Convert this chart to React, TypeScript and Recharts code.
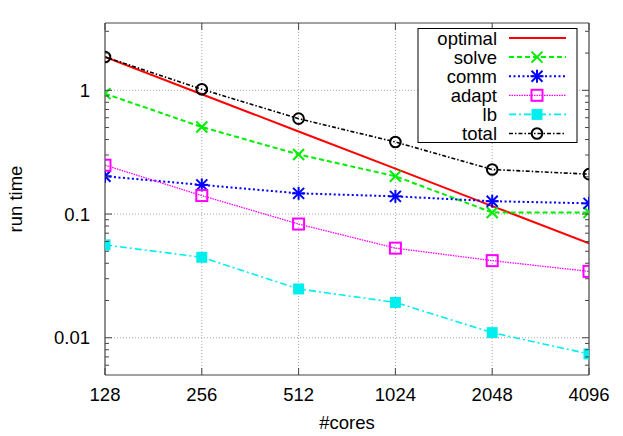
import React from "react";
import { LineChart, Line, XAxis, YAxis, ReferenceLine } from "recharts";

const CORES = [128, 256, 512, 1024, 2048, 4096];
const OPTIMAL = [1.86, 0.93, 0.465, 0.233, 0.116, 0.058];
const SOLVE = [0.94, 0.505, 0.303, 0.202, 0.103, 0.103];
const COMM = [0.202, 0.172, 0.147, 0.139, 0.127, 0.122];
const ADAPT = [0.248, 0.141, 0.083, 0.053, 0.042, 0.0344];
const LB = [0.0563, 0.0447, 0.0248, 0.0193, 0.011, 0.0074];
const TOTAL = [1.86, 1.02, 0.59, 0.382, 0.229, 0.21];

const Y_MAJOR = [0.01, 0.1, 1];
const Y_TICKS = [
  0.006, 0.007, 0.008, 0.009, 0.01,
  0.02, 0.03, 0.04, 0.05, 0.06, 0.07, 0.08, 0.09, 0.1,
  0.2, 0.3, 0.4, 0.5, 0.6, 0.7, 0.8, 0.9, 1,
  2, 3,
];

const data = CORES.map((p, i) => ({
  p,
  optimal: OPTIMAL[i],
  solve: SOLVE[i],
  comm: COMM[i],
  adapt: ADAPT[i],
  lb: LB[i],
  total: TOTAL[i],
}));

const FONT = "'Liberation Sans', Arial, Helvetica, sans-serif";
const FS = 18.5;
const BORDER = "#444";
const GRID = "#a8a8a8";

type Mark = "none" | "x" | "star" | "box" | "fbox" | "circle";

const SERIES: { key: string; name: string; color: string; dash?: string; width: number; mark: Mark }[] = [
  { key: "optimal", name: "optimal", color: "#ff0000", width: 2, mark: "none" },
  { key: "solve", name: "solve", color: "#00ee00", dash: "5 3", width: 2, mark: "x" },
  { key: "comm", name: "comm", color: "#0000ff", dash: "2 2.5", width: 2, mark: "star" },
  { key: "adapt", name: "adapt", color: "#ff00ff", dash: "1.5 1", width: 1.3, mark: "box" },
  { key: "lb", name: "lb", color: "#00eeee", dash: "7 3 2 3", width: 1.6, mark: "fbox" },
  { key: "total", name: "total", color: "#000000", dash: "4 2 1.5 2", width: 1.6, mark: "circle" },
];

function marker(mark: Mark, cx: number, cy: number, color: string, key?: string | number) {
  const s = 5.5;
  switch (mark) {
    case "x":
      return (
        <g key={key} stroke={color} strokeWidth={2}>
          <line x1={cx - s} y1={cy - s} x2={cx + s} y2={cy + s} />
          <line x1={cx - s} y1={cy + s} x2={cx + s} y2={cy - s} />
        </g>
      );
    case "star":
      return (
        <g key={key} stroke={color} strokeWidth={2}>
          <line x1={cx - s} y1={cy - s} x2={cx + s} y2={cy + s} />
          <line x1={cx - s} y1={cy + s} x2={cx + s} y2={cy - s} />
          <line x1={cx - s - 1} y1={cy} x2={cx + s + 1} y2={cy} />
          <line x1={cx} y1={cy - s - 1} x2={cx} y2={cy + s + 1} />
        </g>
      );
    case "box":
      return <rect key={key} x={cx - 5.5} y={cy - 5.5} width={11} height={11} fill="none" stroke={color} strokeWidth={2} />;
    case "fbox":
      return <rect key={key} x={cx - 5.5} y={cy - 5.5} width={11} height={11} fill={color} />;
    case "circle":
      return <circle key={key} cx={cx} cy={cy} r={5.3} fill="none" stroke={color} strokeWidth={2} />;
    default:
      return <g key={key} />;
  }
}

// gnuplot style ticks: drawn inward from the border, labels outside
function BottomTick(props: any) {
  const { x, y, payload } = props;
  return (
    <g>
      <line x1={x} y1={y} x2={x} y2={y - 7} stroke={BORDER} strokeWidth={1} />
      <text x={x} y={y + 26} textAnchor="middle" fontSize={FS} fontFamily={FONT} fill="#000">
        {payload.value}
      </text>
    </g>
  );
}

function TopTick(props: any) {
  const { x, y } = props;
  return <line x1={x} y1={y} x2={x} y2={y + 7} stroke={BORDER} strokeWidth={1} />;
}

function LeftTick(props: any) {
  const { x, y, payload } = props;
  const major = Y_MAJOR.includes(payload.value);
  return (
    <g>
      <line x1={x} y1={y} x2={x + (major ? 7 : 4)} y2={y} stroke={BORDER} strokeWidth={1} />
      {major && (
        <text x={x - 15} y={y} dy="0.36em" textAnchor="end" fontSize={FS} fontFamily={FONT} fill="#000">
          {payload.value}
        </text>
      )}
    </g>
  );
}

function RightTick(props: any) {
  const { x, y, payload } = props;
  const major = Y_MAJOR.includes(payload.value);
  return <line x1={x} y1={y} x2={x - (major ? 7 : 4)} y2={y} stroke={BORDER} strokeWidth={1} />;
}

function LegendBox() {
  const top = 38;
  const step = 19.1;
  return (
    <svg width={623} height={436} style={{ position: "absolute", left: 0, top: 0, pointerEvents: "none" }}>
      <rect x={418} y={28.5} width={159} height={114} fill="#fff" stroke="#000" strokeWidth={1} />
      {SERIES.map((s, i) => {
        const cy = top + i * step;
        return (
          <g key={s.key}>
            <text x={497} y={cy} dy="0.36em" textAnchor="end" fontSize={FS} fontFamily={FONT} fill="#000">
              {s.name}
            </text>
            <line x1={509} y1={cy} x2={566} y2={cy} stroke={s.color} strokeWidth={s.width} strokeDasharray={s.dash} />
            {marker(s.mark, 537, cy, s.color)}
          </g>
        );
      })}
    </svg>
  );
}

export default function App() {
  return (
    <div style={{ position: "absolute", left: 0, top: 0, width: 623, height: 436, background: "#fff" }}>
      <LineChart width={623} height={436} data={data} margin={{ top: 0, right: 0, bottom: 0, left: 0 }}>
        <XAxis
          dataKey="p"
          type="number"
          scale="log"
          domain={[128, 4096]}
          ticks={CORES}
          interval={0}
          height={61}
          tickSize={0}
          tickMargin={0}
          tickLine={false}
          axisLine={{ stroke: BORDER, strokeWidth: 1.2 }}
          tick={<BottomTick />}
          allowDataOverflow
        />
        <XAxis
          xAxisId="top"
          dataKey="p"
          type="number"
          scale="log"
          orientation="top"
          domain={[128, 4096]}
          ticks={CORES}
          interval={0}
          height={23}
          tickSize={0}
          tickMargin={0}
          tickLine={false}
          axisLine={{ stroke: BORDER, strokeWidth: 1.2 }}
          tick={<TopTick />}
          allowDataOverflow
        />
        <YAxis
          type="number"
          scale="log"
          domain={[0.005, 3.5]}
          ticks={Y_TICKS}
          interval={0}
          width={105}
          tickSize={0}
          tickMargin={0}
          tickLine={false}
          axisLine={{ stroke: BORDER, strokeWidth: 1.2 }}
          tick={<LeftTick />}
          allowDataOverflow
        />
        <YAxis
          yAxisId="r"
          orientation="right"
          type="number"
          scale="log"
          domain={[0.005, 3.5]}
          ticks={Y_TICKS}
          interval={0}
          width={34}
          tickSize={0}
          tickMargin={0}
          tickLine={false}
          axisLine={{ stroke: BORDER, strokeWidth: 1.2 }}
          tick={<RightTick />}
          allowDataOverflow
        />
        {CORES.slice(1, -1).map((c) => (
          <ReferenceLine key={`vx${c}`} x={c} stroke={GRID} strokeDasharray="1 2" strokeWidth={1} />
        ))}
        {Y_MAJOR.map((v) => (
          <ReferenceLine key={`hy${v}`} y={v} stroke={GRID} strokeDasharray="1 2" strokeWidth={1} />
        ))}
        {SERIES.map((s) => (
          <Line
            key={s.key}
            dataKey={s.key}
            name={s.name}
            type="linear"
            stroke={s.color}
            strokeWidth={s.width}
            strokeDasharray={s.dash}
            isAnimationActive={false}
            activeDot={false}
            dot={s.mark === "none" ? false : (p: any) => marker(s.mark, p.cx, p.cy, s.color, p.index)}
          />
        ))}
      </LineChart>
      <LegendBox />
      <div
        style={{
          position: "absolute",
          left: 16,
          top: 199,
          transform: "translate(-50%, -50%) rotate(-90deg)",
          fontFamily: FONT,
          fontSize: FS,
          whiteSpace: "nowrap",
          lineHeight: 1,
        }}
      >
        run time
      </div>
      <div
        style={{
          position: "absolute",
          left: 347,
          top: 423,
          transform: "translate(-50%, -50%)",
          fontFamily: FONT,
          fontSize: FS,
          whiteSpace: "nowrap",
          lineHeight: 1,
        }}
      >
        #cores
      </div>
    </div>
  );
}
